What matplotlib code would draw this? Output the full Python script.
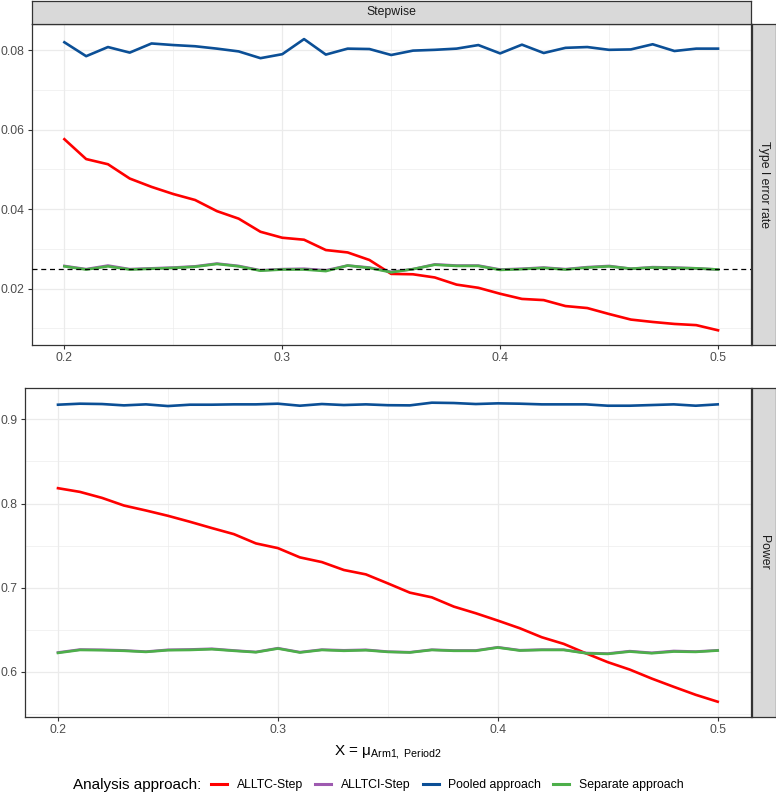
import matplotlib
matplotlib.use("Agg")
import matplotlib.pyplot as plt
from matplotlib.patches import Rectangle
from matplotlib.lines import Line2D
from matplotlib.ticker import MultipleLocator

plt.rcParams['font.family'] = ['Liberation Sans', 'DejaVu Sans']
plt.rcParams['mathtext.fontset'] = 'custom'
plt.rcParams['mathtext.rm'] = 'Liberation Sans'
plt.rcParams['mathtext.it'] = 'Liberation Sans:italic'

# ---- data ----
x_vals = [0.20, 0.21, 0.22, 0.23, 0.24, 0.25, 0.26, 0.27, 0.28, 0.29, 0.30,
          0.31, 0.32, 0.33, 0.34, 0.35, 0.36, 0.37, 0.38, 0.39, 0.40,
          0.41, 0.42, 0.43, 0.44, 0.45, 0.46, 0.47, 0.48, 0.49, 0.50]

series_names = ["ALLTC-Step", "ALLTCI-Step", "Pooled approach", "Separate approach"]
series_colors = ["#FF0000", "#9E5AB0", "#0B4F96", "#4DAF4A"]

alltc_t1 = [0.0576, 0.0526, 0.0513, 0.0477, 0.0456, 0.0438, 0.0423, 0.0395, 0.0376, 0.0343, 0.0328,
            0.0323, 0.0297, 0.0291, 0.0272, 0.0237, 0.0236, 0.0228, 0.0210, 0.0202, 0.0187,
            0.0174, 0.0171, 0.0156, 0.0151, 0.0136, 0.0122, 0.0116, 0.0111, 0.0108, 0.0095]
alltci_t1 = [0.0257, 0.0249, 0.0258, 0.0249, 0.0251, 0.0253, 0.0256, 0.0263, 0.0257, 0.0246, 0.0249,
             0.0250, 0.0246, 0.0258, 0.0253, 0.0242, 0.0249, 0.0261, 0.0258, 0.0258, 0.0248,
             0.0250, 0.0253, 0.0249, 0.0254, 0.0257, 0.0250, 0.0254, 0.0253, 0.0251, 0.0248]
pooled_t1 = [0.0820, 0.0785, 0.0808, 0.0794, 0.0817, 0.0813, 0.0810, 0.0804, 0.0797, 0.0780, 0.0790,
             0.0828, 0.0789, 0.0804, 0.0803, 0.0788, 0.0799, 0.0801, 0.0804, 0.0813, 0.0792,
             0.0814, 0.0793, 0.0806, 0.0808, 0.0801, 0.0802, 0.0815, 0.0798, 0.0804, 0.0804]
separate_t1 = [0.0256, 0.0248, 0.0256, 0.0248, 0.0250, 0.0252, 0.0255, 0.0262, 0.0256, 0.0245, 0.0248,
               0.0248, 0.0244, 0.0258, 0.0252, 0.0241, 0.0249, 0.0260, 0.0257, 0.0257, 0.0247,
               0.0249, 0.0252, 0.0248, 0.0253, 0.0256, 0.0250, 0.0253, 0.0252, 0.0251, 0.0248]

alltc_pw = [0.8182, 0.8138, 0.8067, 0.7976, 0.7917, 0.7854, 0.7783, 0.7708, 0.7636, 0.7526, 0.7470,
            0.7360, 0.7304, 0.7210, 0.7158, 0.7051, 0.6941, 0.6885, 0.6775, 0.6696, 0.6609,
            0.6518, 0.6411, 0.6332, 0.6221, 0.6115, 0.6027, 0.5920, 0.5822, 0.5727, 0.5645]
alltci_pw = [0.6230, 0.6265, 0.6262, 0.6255, 0.6240, 0.6262, 0.6266, 0.6274, 0.6254, 0.6236, 0.6281,
             0.6234, 0.6264, 0.6256, 0.6262, 0.6240, 0.6233, 0.6263, 0.6254, 0.6254, 0.6292,
             0.6257, 0.6264, 0.6263, 0.6224, 0.6217, 0.6246, 0.6226, 0.6248, 0.6241, 0.6256]
pooled_pw = [0.9174, 0.9186, 0.9182, 0.9166, 0.9178, 0.9158, 0.9174, 0.9174, 0.9178, 0.9178, 0.9186,
             0.9162, 0.9182, 0.9170, 0.9178, 0.9168, 0.9166, 0.9198, 0.9194, 0.9182, 0.9190,
             0.9186, 0.9178, 0.9178, 0.9178, 0.9162, 0.9162, 0.9170, 0.9178, 0.9162, 0.9178]
separate_pw = [0.6225, 0.6260, 0.6257, 0.6250, 0.6237, 0.6257, 0.6260, 0.6269, 0.6250, 0.6233, 0.6277,
               0.6230, 0.6260, 0.6250, 0.6257, 0.6237, 0.6230, 0.6260, 0.6250, 0.6250, 0.6289,
               0.6253, 0.6260, 0.6260, 0.6221, 0.6213, 0.6241, 0.6221, 0.6241, 0.6237, 0.6253]

alpha_level = 0.025
x_ticks = [0.2, 0.3, 0.4, 0.5]
t1_ticks = [0.02, 0.04, 0.06, 0.08]
pw_ticks = [0.6, 0.7, 0.8, 0.9]

# ---- figure ----
W, H = 776, 794
fig = plt.figure(figsize=(W / 100, H / 100), dpi=100)

def fx(px):
    return px / W

def fy(py):
    return 1 - py / H

def rect(l, t, r, b):
    return [fx(l), fy(b), fx(r) - fx(l), fy(t) - fy(b)]

border_c = "#333333"
grid_c = "#EBEBEB"
strip_fill = "#D9D9D9"
tick_c = "#4D4D4D"

def style_axes(ax, yticks, ylim, yminor):
    ax.set_facecolor("white")
    ax.set_xlim(0.185, 0.515)
    ax.set_ylim(*ylim)
    ax.set_xticks(x_ticks)
    ax.set_xticklabels([f"{v:g}" for v in x_ticks])
    ax.set_yticks(yticks)
    ax.set_yticklabels([f"{v:g}" for v in yticks])
    ax.xaxis.set_minor_locator(MultipleLocator(0.05))
    ax.yaxis.set_minor_locator(MultipleLocator(yminor))
    ax.grid(which="major", color=grid_c, lw=0.9, zorder=0)
    ax.grid(which="minor", color=grid_c, lw=0.45, zorder=0)
    ax.set_axisbelow(True)
    ax.tick_params(which="major", length=3.2, width=0.8, color=border_c,
                   labelsize=8.8, labelcolor=tick_c, pad=2)
    ax.tick_params(which="minor", length=0)
    for s in ax.spines.values():
        s.set_color(border_c)
        s.set_linewidth(0.9)

def strip(l, t, r, b, text, rot=0):
    sax = fig.add_axes(rect(l, t, r, b))
    sax.set_xticks([])
    sax.set_yticks([])
    sax.set_facecolor(strip_fill)
    for s in sax.spines.values():
        s.set_color(border_c)
        s.set_linewidth(0.9)
    sax.text(0.5, 0.5, text, ha="center", va="center", rotation=rot,
             fontsize=8.8, color="#1A1A1A", transform=sax.transAxes)

# top panel
ax1 = fig.add_axes(rect(31.7, 24, 750.7, 345))
style_axes(ax1, t1_ticks, (0.0058, 0.0866), 0.01)
t1_series = [alltc_t1, alltci_t1, pooled_t1, separate_t1]
for name, col, vals in zip(series_names, series_colors, t1_series):
    ax1.plot(x_vals, vals, color=col, lw=1.9, label=name, zorder=3,
             solid_joinstyle="round")
ax1.axhline(alpha_level, color="black", lw=0.9, ls=(0, (4, 3)), zorder=4)
strip(31.7, 0.8, 750.7, 24, "Stepwise")
strip(751.5, 24, 775.5, 345, "Type I error rate", rot=-90)

# bottom panel
ax2 = fig.add_axes(rect(25, 387.7, 750.7, 716.7))
style_axes(ax2, pw_ticks, (0.5467, 0.9376), 0.05)
pw_series = [alltc_pw, alltci_pw, pooled_pw, separate_pw]
handles = []
for name, col, vals in zip(series_names, series_colors, pw_series):
    ln, = ax2.plot(x_vals, vals, color=col, lw=1.9, label=name, zorder=3,
                   solid_joinstyle="round")
    handles.append(ln)
strip(751.5, 387.7, 775.5, 716.7, "Power", rot=-90)

ax2.set_xlabel(r"X = $\mathrm{\mu_{Arm1,\ Period2}}$", fontsize=11, color="black",
               labelpad=5)

# legend
fig.text(fx(73), fy(785), "Analysis approach:", fontsize=11, ha="left", va="center")
leg_handles = [Line2D([0], [0], color=c, lw=2.2) for c in series_colors]
fig.legend(leg_handles, series_names, loc="center left",
           bbox_to_anchor=(fx(211), fy(785)), ncol=4, frameon=False,
           fontsize=8.8, handlelength=1.3, handletextpad=0.8,
           columnspacing=1.0, borderpad=0, borderaxespad=0)

fig.savefig("out.png", dpi=100, facecolor="white")
